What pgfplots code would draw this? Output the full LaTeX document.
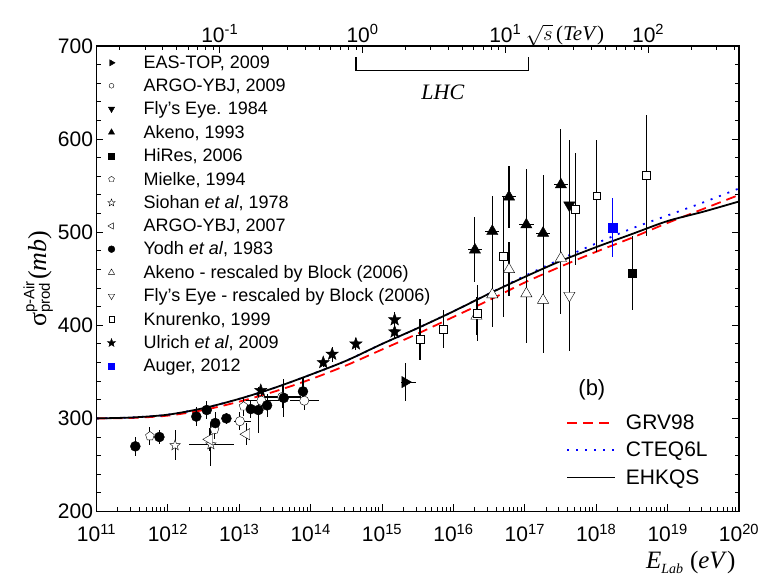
\documentclass[border=0pt]{standalone}
\usepackage{pgfplots}
\pgfplotsset{compat=1.18}
\usetikzlibrary{plotmarks}
\usepackage{fontspec}
\setmainfont{Liberation Sans}
\newfontfamily\tms{Liberation Serif}

% five-pointed star mark
\pgfdeclareplotmark{fivestar}{%
  \pgfpathmoveto{\pgfqpointpolar{90}{\pgfplotmarksize}}%
  \pgfpathlineto{\pgfqpointpolar{126}{0.42\pgfplotmarksize}}%
  \pgfpathlineto{\pgfqpointpolar{162}{\pgfplotmarksize}}%
  \pgfpathlineto{\pgfqpointpolar{198}{0.42\pgfplotmarksize}}%
  \pgfpathlineto{\pgfqpointpolar{234}{\pgfplotmarksize}}%
  \pgfpathlineto{\pgfqpointpolar{270}{0.42\pgfplotmarksize}}%
  \pgfpathlineto{\pgfqpointpolar{306}{\pgfplotmarksize}}%
  \pgfpathlineto{\pgfqpointpolar{342}{0.42\pgfplotmarksize}}%
  \pgfpathlineto{\pgfqpointpolar{18}{\pgfplotmarksize}}%
  \pgfpathlineto{\pgfqpointpolar{54}{0.42\pgfplotmarksize}}%
  \pgfpathclose
  \pgfusepathqfillstroke}

\pgfplotsset{
  ebar/.style={error bars/.cd, y dir=both, y explicit, x dir=both, x explicit,
    error mark=none, error bar style={line width=1.1pt}},
}

\begin{document}
\begin{tikzpicture}
\path[use as bounding box] (-96.5pt,-65.5pt) rectangle (661.5pt,511.5pt);

% model predictions
\begin{axis}[scale only axis, width=642.5pt, height=465.5pt,
  xmode=log, xmin=1e11, xmax=1e20, ymin=200, ymax=700, hide axis,
  legend style={at={(0.726,0.216)}, anchor=north west, draw=none, fill=none,
    font=\fontsize{21}{21}\selectfont, row sep=7pt, column sep=8pt},
  legend cell align=left,
  legend image code/.code={\draw[#1] (0pt,0pt) -- (48pt,0pt);}]
\addplot[red, line width=1.8pt, dash pattern=on 10pt off 6pt, smooth] coordinates {
 (1e11,300) (3.16e11,300.5) (1e12,303) (3.16e12,309) (1e13,318) (3.16e13,329)
 (1e14,342) (3.16e14,357) (1e15,374) (3.16e15,391) (1e16,409) (3.16e16,427)
 (1e17,446) (3.16e17,463) (1e18,479) (3.16e18,494) (1e19,510) (3.16e19,525) (1e20,540)};
\addlegendentry{GRV98}
\addplot[blue, line width=1.8pt, dash pattern=on 2pt off 7pt, smooth] coordinates {
 (1e11,300) (3.16e11,301) (1e12,304) (3.16e12,311) (1e13,321) (3.16e13,333)
 (1e14,347) (3.16e14,362) (1e15,380) (3.16e15,397) (1e16,415) (3.16e16,434)
 (1e17,453) (3.16e17,471) (1e18,488) (3.16e18,504) (1e19,518) (3.16e19,532) (1e20,547)};
\addlegendentry{CTEQ6L}
\addplot[black, line width=1.8pt, smooth] coordinates {
 (1e11,300) (3.16e11,301) (1e12,304) (3.16e12,311) (1e13,321) (3.16e13,333)
 (1e14,347) (3.16e14,362) (1e15,380) (3.16e15,397) (1e16,415) (3.16e16,434)
 (1e17,452) (3.16e17,469) (1e18,484) (3.16e18,498) (1e19,512) (3.16e19,522) (1e20,533)};
\addlegendentry{EHKQS}
\end{axis}

% centre-of-mass energy scale
\begin{axis}[scale only axis, width=642.5pt, height=465.5pt,
  xmode=log, xmin=0.013697, xmax=433.1, ymin=0, ymax=1,
  axis x line*=top, hide y axis, tick align=inside,
  axis line style={line width=1.2pt},
  major tick length=7pt, minor tick length=4pt,
  every tick/.style={line width=1pt, black},
  xtick={0.1,1,10,100},
  xticklabels={10\textsuperscript{-1},10\textsuperscript{0},10\textsuperscript{1},10\textsuperscript{2}},
  minor xtick={0.02,0.03,0.04,0.05,0.06,0.07,0.08,0.09,
    0.2,0.3,0.4,0.5,0.6,0.7,0.8,0.9,2,3,4,5,6,7,8,9,
    20,30,40,50,60,70,80,90,200,300,400},
  xticklabel style={font=\fontsize{21}{21}\selectfont}]
\addplot[draw=none] coordinates {(1,0.5)};
\end{axis}

% measurements
\begin{axis}[scale only axis, width=642.5pt, height=465.5pt,
  xmode=log, xmin=1e11, xmax=1e20, ymin=200, ymax=700, clip=false,
  axis line style={line width=1.2pt},
  tick align=inside, xtick pos=left,
  major tick length=7pt, minor tick length=4pt,
  every tick/.style={line width=1pt, black},
  ytick={200,300,400,500,600,700}, minor y tick num=4,
  xtick={1e11,1e12,1e13,1e14,1e15,1e16,1e17,1e18,1e19,1e20},
  xticklabels={10\textsuperscript{11},10\textsuperscript{12},10\textsuperscript{13},10\textsuperscript{14},10\textsuperscript{15},10\textsuperscript{16},10\textsuperscript{17},10\textsuperscript{18},10\textsuperscript{19},10\textsuperscript{20}},
  minor xtick={2e11,3e11,4e11,5e11,6e11,7e11,8e11,9e11,
   2e12,3e12,4e12,5e12,6e12,7e12,8e12,9e12,
   2e13,3e13,4e13,5e13,6e13,7e13,8e13,9e13,
   2e14,3e14,4e14,5e14,6e14,7e14,8e14,9e14,
   2e15,3e15,4e15,5e15,6e15,7e15,8e15,9e15,
   2e16,3e16,4e16,5e16,6e16,7e16,8e16,9e16,
   2e17,3e17,4e17,5e17,6e17,7e17,8e17,9e17,
   2e18,3e18,4e18,5e18,6e18,7e18,8e18,9e18,
   2e19,3e19,4e19,5e19,6e19,7e19,8e19,9e19},
  /pgf/number format/assume math mode=true,
  ticklabel style={font=\fontsize{21}{21}\selectfont},
  xticklabel style={yshift=-9pt},
  xlabel={{\tms\itshape E}\raisebox{-5pt}{\fontsize{14}{14}\selectfont\tms\itshape Lab}\hspace{7pt}{\tms (\textit{eV})}},
  xlabel style={at={(axis description cs:1,0)}, anchor=base east, yshift=-57pt,
    font=\fontsize{25}{25}\selectfont},
  ylabel={{\tms σ}$^{\mbox{\fontsize{15}{15}\selectfont p-Air}}_{\mbox{\fontsize{15}{15}\selectfont prod}}$\hspace{1pt}{\tms(\textit{mb})}},
  ylabel style={font=\fontsize{26}{26}\selectfont, yshift=-2pt},
  legend style={at={(0.012,0.988)}, anchor=north west, draw=none, fill=none,
    font=\fontsize{18}{18}\selectfont, row sep=4.9pt, column sep=26pt},
  legend cell align=left,
]
% EAS-TOP, 2009
\addplot[only marks, black, mark=triangle*, mark size=6.5pt, mark options={rotate=-90},
  legend image post style={mark size=3.6pt}, ebar]
  table[x=E, y=s, x error plus=ep, x error minus=em, y error=dy] {
E s ep em dy
2.1e15 339 9e14 2.4e14 20
};
\addlegendentry{EAS-TOP, 2009}
% ARGO-YBJ, 2009
\addplot[only marks, black, mark=*, mark size=4.6pt, mark options={fill=white},
  legend image post style={mark size=2.4pt}, ebar]
  table[x=E, y=s, x error plus=ep, x error minus=em, y error=dy] {
E s ep em dy
1.02e13 297 4.6e12 1.9e12 10
2.04e13 319 1.51e13 7.8e12 12
3.98e13 323 3.43e13 1.79e13 12
8.13e13 319 4.77e13 3.0e13 10
};
\addlegendentry{ARGO-YBJ, 2009}
% Fly's Eye, 1984
\addplot[only marks, black, mark=triangle*, mark size=6.5pt, mark options={rotate=180},
  legend image post style={mark size=3.6pt}, ebar]
  table[x=E, y=s, x error plus=ep, x error minus=em, y error=dy] {
E s ep em dy
4.2e17 529 0 0 70
};
\addlegendentry{Fly's Eye. 1984}
% Akeno, 1993
\addplot[only marks, black, mark=triangle*, mark size=6.5pt,
  legend image post style={mark size=3.6pt}, ebar]
  table[x=E, y=s, x error plus=ep, x error minus=em, y error=dy] {
E s ep em dy
2.0e16 481 5.2e15 4.1e15 35
3.5e16 501 9.1e15 7.2e15 38
6.0e16 538 1.55e16 1.24e16 33
1.05e17 508 2.72e16 2.16e16 60
1.8e17 499 4.66e16 3.7e16 62
3.2e17 551 8.3e16 6.6e16 60
};
\addlegendentry{Akeno, 1993}
% HiRes, 2006
\addplot[only marks, black, mark=square*, mark size=4pt,
  legend image post style={mark size=3pt}, ebar]
  table[x=E, y=s, x error plus=ep, x error minus=em, y error=dy] {
E s ep em dy
3.2e18 456 0 0 40
};
\addlegendentry{HiRes, 2006}
% Mielke, 1994
\addplot[only marks, black, mark=pentagon*, mark size=4.6pt, mark options={fill=white},
  legend image post style={mark size=3pt}, ebar]
  table[x=E, y=s, x error plus=ep, x error minus=em, y error=dy] {
E s ep em dy
5.6e11 281 0 0 10
4.5e12 288 0 0 10
1.15e13 313 0 0 10
};
\addlegendentry{Mielke, 1994}
% Siohan et al, 1978
\addplot[only marks, black, mark=fivestar, mark size=5.5pt, mark options={fill=white},
  legend image post style={mark size=3.8pt}, ebar]
  table[x=E, y=s, x error plus=ep, x error minus=em, y error=dy] {
E s ep em dy
1.26e12 271 0 0 16
4.0e12 272 4.3e12 2.0e12 23
};
\addlegendentry{Siohan \textit{et al}, 1978}
% ARGO-YBJ, 2007
\addplot[only marks, black, mark=triangle*, mark size=6.5pt, mark options={rotate=90, fill=white},
  legend image post style={mark size=3.6pt}, ebar]
  table[x=E, y=s, x error plus=ep, x error minus=em, y error=dy] {
E s ep em dy
3.8e12 277.5 0 0 12
1.26e13 283 0 0 12
};
\addlegendentry{ARGO-YBJ, 2007}
% Yodh et al, 1983
\addplot[only marks, black, mark=*, mark size=5pt,
  legend image post style={mark size=3.4pt}, ebar]
  table[x=E, y=s, x error plus=ep, x error minus=em, y error=dy] {
E s ep em dy
3.5e11 270 0 0 10
7.6e11 280 0 0 8
2.5e12 302 0 0 10
3.5e12 309 0 0 10
4.6e12 295 0 0 12
6.6e12 300 0 0 6
1.45e13 310 0 0 10
1.85e13 309 0 0 25
2.45e13 314 0 0 12
4.2e13 322 0 0 20
7.8e13 329 0 0 15
};
\addlegendentry{Yodh \textit{et al}, 1983}
% Akeno - rescaled by Block (2006)
\addplot[only marks, black, mark=triangle*, mark size=6.5pt, mark options={fill=white},
  legend image post style={mark size=3.6pt}, ebar]
  table[x=E, y=s, x error plus=ep, x error minus=em, y error=dy] {
E s ep em dy
2.1e16 410 0 0 20
3.5e16 433 0 0 35
6.0e16 460 0 0 29
1.05e17 434 0 0 53
1.8e17 427 0 0 57
3.2e17 472 0 0 60
};
\addlegendentry{Akeno - rescaled by Block (2006)}
% Fly's Eye - rescaled by Block (2006)
\addplot[only marks, black, mark=triangle*, mark size=6.5pt, mark options={rotate=180, fill=white},
  legend image post style={mark size=3.6pt}, ebar]
  table[x=E, y=s, x error plus=ep, x error minus=em, y error=dy] {
E s ep em dy
4.2e17 432 0 0 60
};
\addlegendentry{Fly's Eye - rescaled by Block (2006)}
% Knurenko, 1999
\addplot[only marks, black, mark=square*, mark size=3.8pt, mark options={fill=white},
  legend image post style={mark size=2.8pt}, ebar]
  table[x=E, y=s, x error plus=ep, x error minus=em, y error=dy] {
E s ep em dy
3.4e15 385 0 0 22
7.2e15 396 0 0 20
2.15e16 413 0 0 30
5.0e16 474 0 0 65
5.1e17 525 0 0 60
1.02e18 539 0 0 60
5.0e18 561 0 0 65
};
\addlegendentry{Knurenko, 1999}
% Ulrich et al, 2009
\addplot[only marks, black, mark=fivestar, mark size=6.5pt,
  legend image post style={mark size=4.3pt}, ebar]
  table[x=E, y=s, x error plus=ep, x error minus=em, y error=dy] {
E s ep em dy
2.0e13 330 0 0 3
1.5e14 360 0 0 5
2.0e14 369 0 0 8
4.3e14 380 0 0 6
1.5e15 406 0 0 8
1.5e15 393 0 0 8
};
\addlegendentry{Ulrich \textit{et al}, 2009}
% Auger, 2012
\addplot[only marks, blue, mark=square*, mark size=4.2pt,
  legend image post style={mark size=3pt}, ebar]
  table[x=E, y=s, x error plus=ep, x error minus=em, y error=dy] {
E s ep em dy
1.7e18 505 0 0 32
};
\addlegendentry{Auger, 2012}

% LHC energy range
\draw[line width=1.2pt] (axis cs:4.32e14,688) -- (axis cs:4.32e14,674)
  -- (axis cs:1.12e17,674) -- (axis cs:1.12e17,688);
\node[font=\fontsize{22}{22}\selectfont\tms\itshape] at (axis cs:7.1e15,650) {LHC};
\node[font=\fontsize{22}{22}\selectfont] at (rel axis cs:0.771,0.261) {(b)};
\node[anchor=base west, font=\fontsize{21}{21}\selectfont\tms, inner sep=0pt]
  at (rel axis cs:0.668,1.011) {$\sqrt{s}\,$(\textit{TeV})};
\end{axis}
\end{tikzpicture}
\end{document}
